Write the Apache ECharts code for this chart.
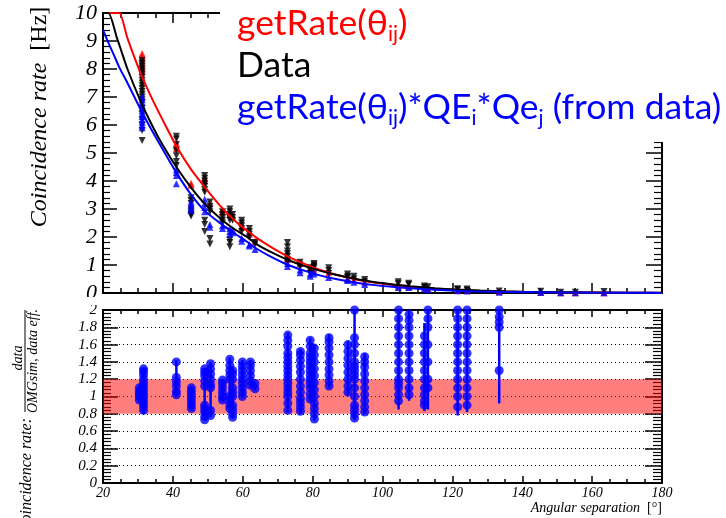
<!DOCTYPE html>
<html><head><meta charset="utf-8">
<script src="https://cdn.jsdelivr.net/npm/echarts@6/dist/echarts.min.js"></script>
<style>html,body{margin:0;padding:0;background:#fff}#c{width:726px;height:518px}</style>
</head><body><div id="c"></div>
<script>
// ---------- data ----------
const curveX     = [20, 21.5, 24, 24.7, 27, 30.6, 34, 37, 41, 45, 49, 54, 58, 61, 64, 68, 73, 78, 82, 87, 92.5, 97, 102, 108, 115, 121, 128, 135, 140, 150, 160, 170, 180];
const curveRed   = [10, 10, 10, 10, 9.1, 7.9, 6.95, 6.2, 5.25, 4.45, 3.8, 3.05, 2.55, 2.25, 1.97, 1.65, 1.3, 1.02, 0.83, 0.64, 0.48, 0.38, 0.3, 0.22, 0.15, 0.11, 0.075, 0.05, 0.04, 0.024, 0.014, 0.008, 0.005];
const curveBlack = [10, 10, 9.1, 8.85, 8.0, 6.9, 6.0, 5.3, 4.5, 3.8, 3.2, 2.62, 2.25, 2.02, 1.74, 1.47, 1.18, 0.95, 0.8, 0.64, 0.5, 0.4, 0.32, 0.24, 0.17, 0.125, 0.088, 0.062, 0.048, 0.03, 0.018, 0.011, 0.007];
const curveBlue  = [9.4, 8.95, 8.25, 8.05, 7.5, 6.6, 5.8, 5.15, 4.3, 3.55, 2.95, 2.45, 2.1, 1.85, 1.58, 1.3, 1.0, 0.78, 0.63, 0.49, 0.37, 0.29, 0.23, 0.17, 0.115, 0.08, 0.055, 0.037, 0.03, 0.018, 0.01, 0.006, 0.004];

const colX = [31.2, 41, 45.2, 49.1, 50.6, 54.2, 56.3, 57.1, 59.7, 61.9, 63.5, 72.8, 76.4, 79.3, 80.4, 84.6, 90, 91.8, 94.9, 104.5, 107.5, 112, 113, 121.5, 124.2, 133.4, 145.3, 151, 155.2, 163.4];
const redCols = [
  [8.55, 8.45, 8.35, 8.25, 8.15, 8.05, 7.95], [5.35, 5.25, 5.15], [3.92, 3.85], [4.1, 4.02], [3.2],
  [2.97, 2.9], [2.88, 2.8], [2.75], [2.35], [2.1], [1.85], [1.25, 1.2], [1.05], [0.88], [0.85], [0.72],
  [0.52], [0.47], [0.38], [0.25], [0.22], [0.17], [0.16], [0.1], [0.09], [0.05], [0.02], [0.01], [0.01], [0.01]
];
const blackCols = [
  [8.3, 8.2, 8.1, 8.0, 7.9, 7.8, 7.7, 7.6, 7.5, 7.4, 7.3, 7.2, 7.1, 7.0, 6.9, 6.8, 6.6, 6.4, 6.2, 6.0, 5.8, 5.45],
  [5.6, 5.5, 5.3, 5.1, 4.9, 4.7, 4.55], [3.4, 3.3, 3.2, 3.0, 2.9, 2.8, 2.75],
  [4.2, 4.1, 4.0, 3.9, 3.8, 3.7, 3.6, 2.6, 2.45, 2.2], [3.25, 3.1, 3.0, 2.9, 1.95, 1.75],
  [2.9, 2.8, 2.7, 2.6, 2.5], [3.0, 2.9, 2.8, 2.7, 2.6, 1.9, 1.8, 1.65], [2.8, 2.7, 2.6],
  [2.6, 2.5, 2.4, 2.3, 2.2], [2.3, 2.2, 2.1, 2.0], [1.8, 1.75],
  [1.8, 1.65, 1.5, 1.4, 1.3, 1.2, 1.1], [1.1, 1.0, 0.93], [0.9, 0.8, 0.7], [1.05, 1.0, 0.95, 0.9],
  [0.9, 0.8, 0.7], [0.68, 0.6, 0.55], [0.6, 0.5], [0.48, 0.4], [0.4, 0.33], [0.35, 0.3],
  [0.25, 0.2], [0.22], [0.15, 0.12], [0.14, 0.1], [0.07], [0.06], [0.03], [0.03], [0.05]
];
const blueCols = [
  [7.0, 6.9, 6.8, 6.7, 6.6, 6.5, 6.4, 6.3, 6.2, 6.1, 6.0, 5.9], [4.4, 4.3, 4.2, 3.9],
  [3.25, 3.15, 3.05, 2.95], [3.35, 3.2, 3.05, 2.9], [2.45, 2.35], [2.4, 2.3], [2.3, 2.2, 2.1],
  [2.25, 2.15], [1.95, 1.85], [1.72, 1.68], [1.55], [1.05, 0.95], [0.82, 0.72], [0.68, 0.6],
  [0.75, 0.68], [0.55], [0.48, 0.45], [0.38], [0.3], [0.2], [0.2], [0.14], [0.12], [0.08],
  [0.07], [0.03], [0.02], [0.01], [0.01], [0.01]
];

const ratioX = [30.4, 31.6, 41, 45.3, 49.1, 50.8, 54.2, 56.3, 57.1, 59.9, 62.2, 63.5, 72.9, 76.5, 79.3, 80.5, 84.7, 90.1, 92, 94.9, 104.6, 107.6, 112, 113, 121.5, 124.2, 133.4];
const ratioCols = [
  [0.96, 1.0, 1.03, 1.06, 1.1],
  [0.84, 0.88, 0.92, 0.96, 1.0, 1.04, 1.08, 1.12, 1.16, 1.2, 1.25, 1.29, 1.32],
  [1.02, 1.06, 1.12, 1.17, 1.22, 1.4],
  [0.86, 0.9, 0.94, 0.98, 1.02, 1.06, 1.1],
  [0.73, 0.77, 0.82, 0.86, 0.9, 1.12, 1.18, 1.24, 1.28, 1.32],
  [0.78, 0.84, 1.1, 1.14, 1.2, 1.26, 1.32, 1.38],
  [0.96, 1.0, 1.05, 1.1, 1.15, 1.19],
  [0.86, 0.9, 0.95, 1.0, 1.2, 1.25, 1.3, 1.36, 1.43],
  [0.76, 0.8, 0.85, 0.9, 1.0, 1.05, 1.1, 1.2, 1.26, 1.3],
  [1.0, 1.05, 1.1, 1.15, 1.2, 1.25, 1.3, 1.35, 1.4],
  [1.13, 1.18, 1.24, 1.3, 1.36, 1.4],
  [1.09, 1.15],
  [0.84, 0.92, 1.0, 1.05, 1.1, 1.15, 1.2, 1.25, 1.3, 1.35, 1.4, 1.45, 1.5, 1.58, 1.65, 1.71],
  [0.83, 0.88, 0.93, 0.98, 1.05, 1.12, 1.2, 1.28, 1.35, 1.42, 1.48, 1.52],
  [0.97, 1.03, 1.1, 1.15, 1.2, 1.25, 1.3, 1.35, 1.4, 1.45, 1.5, 1.58, 1.65],
  [0.74, 0.8, 0.86, 0.92, 1.0, 1.08, 1.16, 1.24, 1.32, 1.4, 1.48, 1.56],
  [1.12, 1.18, 1.25, 1.32, 1.4, 1.48, 1.56, 1.63, 1.68],
  [1.05, 1.12, 1.2, 1.28, 1.36, 1.44, 1.52, 1.6],
  [0.75, 0.8, 0.85, 0.9, 1.0, 1.1, 1.2, 1.25, 1.3, 1.35, 1.4, 1.5, 1.6, 1.68, 2.0],
  [0.82, 0.88, 0.95, 1.02, 1.1, 1.18, 1.26, 1.34, 1.4, 1.46],
  [0.95, 1.02, 1.1, 1.15, 1.2, 1.3, 1.4, 1.5, 1.6, 1.7, 1.8, 1.9, 2.0],
  [1.02, 1.1, 1.2, 1.3, 1.4, 1.5, 1.6, 1.7, 1.8, 1.88, 1.95],
  [0.9, 0.95, 1.02, 1.1, 1.2, 1.3, 1.4, 1.5, 1.6, 1.7],
  [1.1, 1.2, 1.4, 1.6, 1.8, 1.9, 2.0],
  [0.88, 1.0, 1.1, 1.2, 1.3, 1.4, 1.5, 1.6, 1.7, 1.8, 1.9, 2.0],
  [0.9, 1.0, 1.1, 1.2, 1.3, 1.4, 1.5, 1.6, 1.7, 1.8, 1.9, 2.0],
  [1.3, 1.8, 1.86, 1.92, 2.0]
];
const ratioErrLo = [0.93, 0.8, 1.0, 0.84, 0.72, 0.76, 0.94, 0.84, 0.74, 0.98, 1.1, 1.07, 0.82, 0.8, 0.95, 0.72, 1.1, 1.02, 0.73, 0.8, 0.85, 0.95, 0.83, 0.85, 0.78, 0.82, 0.92];
const ratioErrHi = [1.13, 1.33, 1.42, 1.12, 1.33, 1.4, 1.2, 1.45, 1.32, 1.42, 1.42, 1.17, 1.74, 1.55, 1.68, 1.6, 1.72, 1.64, 2.0, 1.5, 2.0, 2.0, 1.85, 2.0, 2.0, 2.0, 2.0];
const bandLow = 0.8, bandHigh = 1.2;

// ---------- build ----------
function flatten(xs, cols) {
  const out = [];
  xs.forEach((x, i) => cols[i].forEach(v => out.push([x, v])));
  return out;
}
const serif = '"Liberation Serif", "Times New Roman", serif';
const sans = 'Lato, "Noto Sans", sans-serif';

function xAx(grid, pos, showLabel, major, minor) {
  return {
    type: 'value', gridIndex: grid, position: pos, min: 20, max: 180, interval: 20,
    axisLine: { show: true, onZero: false, lineStyle: { color: '#000', width: 2 } },
    axisTick: { show: true, inside: true, length: major, lineStyle: { color: '#000', width: 1.5 } },
    minorTick: { show: true, splitNumber: 4, length: minor, lineStyle: { color: '#000', width: 1.5 } },
    axisLabel: { show: showLabel, fontFamily: serif, fontStyle: 'italic', fontSize: 14, color: '#000', margin: 3,
      showMinLabel: true, showMaxLabel: true },
    splitLine: { show: false }
  };
}
function yAx(grid, pos, min, max, interval, showLabel, fontSize, major, minor, split) {
  return {
    type: 'value', gridIndex: grid, position: pos, min: min, max: max, interval: interval,
    axisLine: { show: true, onZero: false, lineStyle: { color: '#000', width: 2 } },
    axisTick: { show: true, inside: true, length: major, lineStyle: { color: '#000', width: 1.5 } },
    minorTick: { show: true, splitNumber: 5, length: minor, lineStyle: { color: '#000', width: 1.2 } },
    axisLabel: { show: showLabel, fontFamily: serif, fontStyle: 'italic', fontSize: fontSize, color: '#000', margin: 6,
      showMinLabel: true, showMaxLabel: true },
    splitLine: { show: !!split, lineStyle: { color: '#000', width: 1, type: [1, 3] } }
  };
}
function lineSeries(ys, color) {
  return { type: 'line', xAxisIndex: 0, yAxisIndex: 0, z: 4, smooth: 0.25,
    showSymbol: false, clip: true, silent: true,
    lineStyle: { color: color, width: 2 }, data: curveX.map((x, i) => [x, ys[i]]) };
}
const lg = (color, size, lh, va) => ({ color: color, fontFamily: sans, fontWeight: 'normal', fontSize: size, lineHeight: lh, verticalAlign: va });

const chart = echarts.init(document.getElementById('c'), null, { renderer: 'canvas' });
const option = {
  animation: false,
  backgroundColor: '#fff',
  grid: [
    { left: 103, right: 64, top: 13, height: 280, show: false },
    { left: 103, right: 64, top: 310, height: 173, show: false }
  ],
  xAxis: [
    xAx(0, 'bottom', false, 10, 5),
    xAx(0, 'top', false, 10, 5),
    xAx(1, 'bottom', true, 7, 4),
    xAx(1, 'top', false, 7, 4)
  ],
  yAxis: [
    yAx(0, 'left', 0, 10, 1, true, 22, 14, 7, false),
    yAx(0, 'right', 0, 10, 1, false, 22, 16, 8, false),
    yAx(1, 'left', 0, 2, 0.2, true, 15, 15, 8, true),
    yAx(1, 'right', 0, 2, 0.2, false, 15, 17, 9, false)
  ],
  title: {
    left: 237, top: 3, z: 200, padding: 0,
    text: '{r|getRate(θ}{rs|ij}{r|)}\n{k|Data}\n{b|getRate(θ}{bs|ij}{b|)*QE}{bs|i}{b|*Qe}{bs|j}{b| (from data)}',
    textStyle: {
      fontWeight: 'normal',
      rich: {
        r: lg('#ff0000', 35.5, 42, 'middle'),
        rs: lg('#ff0000', 21, 18, 'bottom'),
        k: lg('#000000', 35.5, 42, 'middle'),
        b: lg('#0000ff', 35.5, 42, 'middle'),
        bs: lg('#0000ff', 21, 18, 'bottom')
      }
    }
  },
  graphic: [
    { type: 'rect', z: 100, shape: { x: 220, y: 0, width: 506, height: 142 }, style: { fill: '#fff' } },
    { type: 'rect', z: 100, shape: { x: 50, y: 297, width: 51, height: 8 }, style: { fill: '#fff' } },
    { type: 'text', z: 100, x: 40, y: 117, rotation: Math.PI / 2,
      style: { text: '{i|Coincidence rate}{n|  [Hz]}', align: 'center', verticalAlign: 'middle',
        textAlign: 'center', textVerticalAlign: 'middle',
        rich: { i: { fontFamily: serif, fontStyle: 'italic', fontSize: 24, fill: '#000' },
                n: { fontFamily: serif, fontSize: 24, fill: '#000' } } } },
    { type: 'text', z: 100, x: 18, y: 358, rotation: Math.PI / 2,
      style: { text: 'data', font: 'italic 14px ' + serif, fill: '#000', align: 'center', verticalAlign: 'middle',
        textAlign: 'center', textVerticalAlign: 'middle' } },
    { type: 'line', z: 100, shape: { x1: 25, y1: 310, x2: 25, y2: 412 }, style: { stroke: '#000', lineWidth: 1 } },
    { type: 'text', z: 100, x: 33, y: 361, rotation: Math.PI / 2,
      style: { text: 'OMGsim, data eff.', font: 'italic 14px ' + serif, fill: '#000', align: 'center', verticalAlign: 'middle',
        textAlign: 'center', textVerticalAlign: 'middle' } },
    { type: 'text', z: 100, x: 27, y: 418, rotation: Math.PI / 2,
      style: { text: 'Coincidence rate:', font: 'italic 16px ' + serif, fill: '#000', align: 'right', verticalAlign: 'middle',
        textAlign: 'right', textVerticalAlign: 'middle' } },
    { type: 'text', z: 100, x: 662, y: 508,
      style: { text: '{i|Angular separation}{n|  [°]}', align: 'right', verticalAlign: 'middle',
        textAlign: 'right', textVerticalAlign: 'middle',
        rich: { i: { fontFamily: serif, fontStyle: 'italic', fontSize: 14, fill: '#000' },
                n: { fontFamily: serif, fontSize: 14, fill: '#000' } } } }
  ],
  series: [
    { type: 'scatter', xAxisIndex: 0, yAxisIndex: 0, z: 3, symbol: 'triangle', symbolSize: 7,
      itemStyle: { color: '#ff0000' }, data: flatten(colX, redCols), silent: true },
    { type: 'scatter', xAxisIndex: 0, yAxisIndex: 0, z: 3, symbol: 'triangle', symbolRotate: 180, symbolSize: 7,
      itemStyle: { color: '#000000' }, data: flatten(colX, blackCols), silent: true },
    { type: 'scatter', xAxisIndex: 0, yAxisIndex: 0, z: 3, symbol: 'triangle', symbolSize: 7,
      itemStyle: { color: '#0000ff' }, data: flatten(colX, blueCols), silent: true },
    lineSeries(curveRed, '#ff0000'),
    lineSeries(curveBlack, '#000000'),
    lineSeries(curveBlue, '#0000ff'),
    { type: 'line', xAxisIndex: 2, yAxisIndex: 2, z: 1, showSymbol: false, silent: true,
      lineStyle: { opacity: 0 }, data: [[20, 1], [180, 1]],
      markArea: { silent: true, itemStyle: { color: 'rgba(255,0,0,0.5)' },
        data: [[{ xAxis: 20, yAxis: bandLow }, { xAxis: 180, yAxis: bandHigh }]] } },
    { type: 'custom', xAxisIndex: 2, yAxisIndex: 2, z: 3, silent: true,
      data: ratioX.map((x, i) => [x, ratioErrLo[i], ratioErrHi[i]]),
      encode: { x: 0, y: [1, 2] },
      renderItem: function (params, api) {
        const p1 = api.coord([api.value(0), api.value(1)]);
        const p2 = api.coord([api.value(0), api.value(2)]);
        return { type: 'line', shape: { x1: p1[0], y1: p1[1], x2: p2[0], y2: p2[1] },
          style: { stroke: '#0000ff', lineWidth: 2.5 } };
      } },
    { type: 'scatter', xAxisIndex: 2, yAxisIndex: 2, z: 4, symbol: 'circle', symbolSize: 9, silent: true,
      itemStyle: { color: '#0000ff' }, data: flatten(ratioX, ratioCols) }
  ]
};
chart.setOption(option);
</script></body></html>
